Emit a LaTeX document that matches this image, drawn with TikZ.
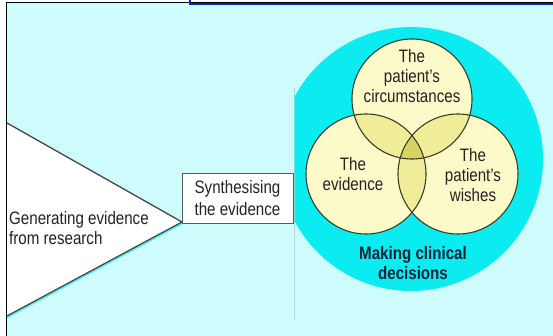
\documentclass[tikz,border=0pt]{standalone}
\usepackage{fontspec}
\setmainfont{Liberation Sans}[FakeStretch=0.84]
\definecolor{bg}{RGB}{206,251,251}
\definecolor{cyanC}{RGB}{10,236,240}
\definecolor{yel}{RGB}{252,250,200}
\definecolor{pairc}{RGB}{240,237,152}
\definecolor{triplec}{RGB}{214,210,100}
\definecolor{outl}{RGB}{60,60,40}
\definecolor{edge}{RGB}{70,70,70}
\definecolor{boxc}{RGB}{90,90,90}
\definecolor{txt}{RGB}{35,35,35}
\definecolor{navy}{RGB}{20,32,55}
\definecolor{frameblue}{RGB}{0,45,160}
\definecolor{faint}{RGB}{175,215,215}
\begin{document}
\begin{tikzpicture}[x=1pt,y=-1pt,
  lbl/.style={align=center,inner sep=0,font=\fontsize{18}{20}\selectfont,text=txt},
  ring/.style={circle,draw=outl,line width=1.1,minimum size=120,inner sep=0}]
\useasboundingbox (0,0) rectangle (553,336);
\fill[white] (0,0) rectangle (553,336);
\fill[bg] (6.5,3) rectangle (553,336);
\draw[black,line width=1] (6.5,336) -- (6.5,2.8) -- (553,2.8);
\draw[frameblue,line width=1.8] (190,0) -- (190,4.3) -- (553,4.3);
% faint panel line
\coordinate (fa) at (294,88);
\coordinate (fb) at (294,320);
\draw[faint,line width=0.8] (fa) -- (fb);
% cyan disc
\begin{scope}
  \clip (294.5,0) rectangle (553,336);
  \fill[cyanC] (411,159) circle[radius=132];
\end{scope}
% triangle
\coordinate (tA) at (7,123);
\coordinate (tB) at (182,222);
\coordinate (tC) at (7,316);
\draw[cyanC!80,line width=1.2] ([yshift=-1.6pt]tB) -- ([yshift=-1.6pt]tC);
\filldraw[fill=white,draw=edge,line width=1.3,line join=miter] (tA) -- (tB) -- (tC);
\node[lbl,align=left,anchor=west] (gen) at (9,228) {Generating evidence\\from research};
% box
\node[draw=boxc,fill=white,line width=0.8,minimum width=111,minimum height=50,
  inner sep=0,align=center,font=\fontsize{18}{22}\selectfont,text=txt] (syn) at (237.5,198)
  {Synthesising\\the evidence};
% venn
\coordinate (cT) at (412,99);
\coordinate (cL) at (366,174);
\coordinate (cR) at (458,174);
\fill[yel] (cT) circle[radius=60];
\fill[yel] (cL) circle[radius=60];
\fill[yel] (cR) circle[radius=60];
\begin{scope}
  \clip (cT) circle[radius=60];
  \fill[pairc] (cL) circle[radius=60];
  \fill[pairc] (cR) circle[radius=60];
\end{scope}
\begin{scope}
  \clip (cL) circle[radius=60];
  \fill[pairc] (cR) circle[radius=60];
\end{scope}
\begin{scope}
  \clip (cT) circle[radius=60];
  \clip (cL) circle[radius=60];
  \fill[triplec] (cR) circle[radius=60];
\end{scope}
\node[ring] (rT) at (cT) {};
\node[ring] (rL) at (cL) {};
\node[ring] (rR) at (cR) {};
\node[lbl] (tT) at (412,76) {The\\patient's\\circumstances};
\node[lbl] (tL) at (353,174) {The\\evidence};
\node[lbl] (tR) at (473,175) {The\\patient's\\wishes};
\node[lbl,text=navy,font=\fontsize{18}{20}\selectfont\bfseries] (mk) at (413,263) {Making clinical\\decisions};
\end{tikzpicture}
\end{document}
